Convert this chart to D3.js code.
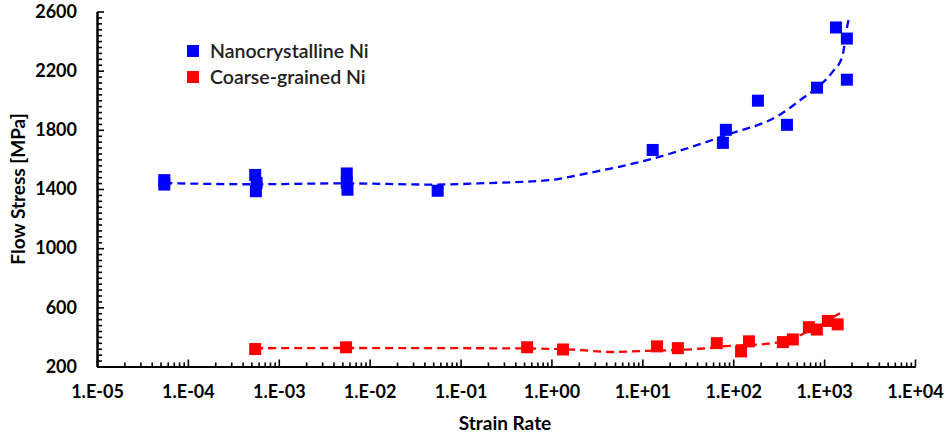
<!DOCTYPE html>
<html>
<head>
<meta charset="utf-8">
<script src="https://cdn.jsdelivr.net/npm/d3@7"></script>
<style>
    body { margin: 0; background: #fff; }
    svg { display: block; }
    text { font-family: Lato, "Open Sans", sans-serif; }
</style>
</head>
<body>
<svg id="chart" width="950" height="438"></svg>
<script>
// strain rate / flow stress
let nanoRate   = [5.5e-5, 5.5e-5, 5.5e-4, 5.7e-4, 5.6e-4, 5.6e-3, 5.6e-3, 5.7e-3, 5.6e-2, 13, 83, 77, 187, 390, 835, 1350, 1780, 1780];
let nanoStress = [1460, 1430, 1495, 1441, 1385, 1505, 1441, 1395, 1388, 1664, 1800, 1712, 1997, 1834, 2085, 2492, 2417, 2139];

let coarseRate   = [5.5e-4, 5.5e-3, 0.54, 1.34, 14.5, 24.6, 66, 122, 149, 352, 453, 680, 832, 1100, 1410];
let coarseStress = [318, 330, 330, 315, 336, 324, 358, 302, 370, 365, 383, 466, 450, 508, 485];

// dashed trend curves
let nanoTrendRate   = [5.5e-5, 5.5e-4, 5e-3, 5e-2, 0.2, 1, 2, 13, 85, 326, 585, 970, 1250, 1590, 1690, 1830, 1870];
let nanoTrendStress = [1440, 1432, 1438, 1430, 1440, 1461, 1495, 1605, 1766, 1902, 2015, 2119, 2195, 2297, 2390, 2525, 2545];

let coarseTrendRate   = [5.5e-4, 5e-3, 5e-2, 0.5, 2, 4.5, 10, 43, 92, 250, 585, 1000, 1490];
let coarseTrendStress = [323, 325, 324, 322, 312, 298, 305, 320, 340, 354, 420, 500, 560];

let xTicks = [1e-5, 1e-4, 1e-3, 1e-2, 1e-1, 1e0, 1e1, 1e2, 1e3, 1e4];
let yTicks = [200, 600, 1000, 1400, 1800, 2200, 2600];

let seriesNames = ["Nanocrystalline Ni", "Coarse-grained Ni"];
let seriesColors = ["#0000ff", "#ff0000"];

let svg = d3.select("#chart");
let x = d3.scaleLog().domain([1e-5, 1e4]).range([97, 915]);
let y = d3.scaleLinear().domain([200, 2600]).range([366.5, 11.5]);

function fmtRate(d) {
    let e = Math.round(Math.log10(d));
    let s = Math.abs(e) < 10 ? "0" + Math.abs(e) : "" + Math.abs(e);
    return "1.E" + (e < 0 ? "-" : "+") + s;
}

// minor ticks
let xMinor = [];
for (let i = 0; i < xTicks.length - 1; i++) {
    for (let k = 2; k <= 9; k++) xMinor.push(xTicks[i] * k);
}
let yMinor = d3.range(200, 2601, 40).filter(v => v % 400 !== 200);

let gx = svg.append("g").attr("transform", `translate(0,${y.range()[0]})`);
gx.append("g").call(d3.axisBottom(x).tickValues(xMinor).tickSize(-4).tickSizeOuter(0).tickFormat(""));
gx.append("g").call(d3.axisBottom(x).tickValues(xTicks).tickSize(-7).tickSizeOuter(0).tickPadding(19).tickFormat(fmtRate));

let gy = svg.append("g").attr("transform", `translate(${x.range()[0]},0)`);
gy.append("g").call(d3.axisLeft(y).tickValues(yMinor).tickSize(-5).tickSizeOuter(0).tickFormat(""));
gy.append("g").call(d3.axisLeft(y).tickValues(yTicks).tickSize(-7).tickSizeOuter(0).tickPadding(20).tickFormat(d3.format("d")));

svg.selectAll(".domain").attr("stroke", "#000").attr("stroke-width", 2);
svg.selectAll(".tick line").attr("stroke", "#000").attr("stroke-width", 1.6);
svg.selectAll(".tick text")
    .attr("font-size", 18)
    .attr("font-weight", "bold")
    .attr("fill", "#000");

// axis titles
svg.append("text")
    .attr("x", 505).attr("y", 430)
    .attr("text-anchor", "middle")
    .attr("font-size", 19).attr("font-weight", "bold")
    .text("Strain Rate");
svg.append("text")
    .attr("transform", "translate(25,189) rotate(-90)")
    .attr("text-anchor", "middle")
    .attr("font-size", 19).attr("font-weight", "bold")
    .text("Flow Stress [MPa]");

// markers
let sz = 12;
function plotMarkers(rates, stresses, color) {
    svg.append("g").selectAll("rect")
        .data(rates.map((r, i) => ({ r: r, s: stresses[i] })))
        .enter().append("rect")
        .attr("x", d => x(d.r) - sz / 2)
        .attr("y", d => y(d.s) - sz / 2)
        .attr("width", sz).attr("height", sz)
        .attr("fill", color);
}
plotMarkers(nanoRate, nanoStress, seriesColors[0]);
plotMarkers(coarseRate, coarseStress, seriesColors[1]);

// trend curves
let line = d3.line().x(d => x(d[0])).y(d => y(d[1])).curve(d3.curveMonotoneX);
function plotTrend(rates, stresses, color) {
    svg.append("path")
        .datum(rates.map((r, i) => [r, stresses[i]]))
        .attr("d", line)
        .attr("fill", "none")
        .attr("stroke", color)
        .attr("stroke-width", 2.3)
        .attr("stroke-dasharray", "8,5");
}
plotTrend(nanoTrendRate, nanoTrendStress, seriesColors[0]);
plotTrend(coarseTrendRate, coarseTrendStress, seriesColors[1]);

// legend
let legend = svg.append("g").attr("transform", "translate(193,51)");
seriesNames.forEach((name, i) => {
    let row = legend.append("g").attr("transform", `translate(0,${i * 26})`);
    row.append("rect").attr("x", -6).attr("y", -6).attr("width", 12).attr("height", 12).attr("fill", seriesColors[i]);
    row.append("text").attr("x", 17).attr("y", 6.5)
        .attr("font-size", 19.5).attr("font-weight", 600).attr("fill", "#222")
        .text(name);
});
</script>
</body>
</html>
